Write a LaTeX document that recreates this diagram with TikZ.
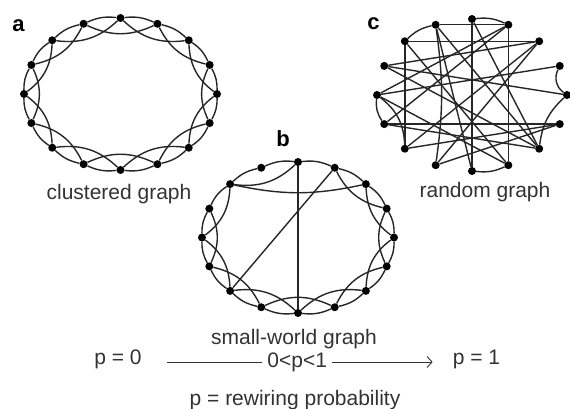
\documentclass[tikz,border=0pt]{standalone}
\usepackage{fontspec}
\setmainfont{Liberation Sans}
\usepackage{tikz}
\usetikzlibrary{arrows.meta}
\tikzset{
  vtx/.style   = {circle, fill=black, inner sep=0pt, minimum size=8pt},
  lnk/.style   = {line width=1.4pt, draw=black!85},
  ring/.style  = {bend left=15},
  hop/.style   = {bend right=25},
  gtxt/.style  = {font=\fontsize{21}{25}\selectfont, text=black!80, inner sep=0pt},
  letter/.style = {font=\fontsize{22}{26}\selectfont\bfseries, inner sep=0pt, anchor=base},
  flow/.style  = {-{Straight Barb[length=5pt,width=11pt]}, line width=0.9pt, draw=black!80},
}

\begin{document}
\begin{tikzpicture}[x=1pt, y=1pt]
  \useasboundingbox (0,0) rectangle (570,409);

  % a: clustered graph, left
  \foreach \i in {0,...,15}
    \node[vtx] (a\i) at ({120.5+96.5*cos(90-22.5*\i)}, {315+76*sin(90-22.5*\i)}) {};
  \foreach \i in {0,...,15} {
    \pgfmathtruncatemacro\j{mod(\i+1,16)}
    \pgfmathtruncatemacro\k{mod(\i+2,16)}
    \draw[lnk] (a\i) to[ring] (a\j);
    \draw[lnk] (a\i) to[hop] (a\k);
  }
  \node[letter] (la) at (18.5,377) {a};
  \node[gtxt, anchor=base] (clus) at (119,209) {clustered graph};

  % b: small-world graph, middle
  \foreach \i in {0,...,15}
    \node[vtx] (b\i) at ({298+96*cos(90-22.5*\i)}, {171.5+75.5*sin(90-22.5*\i)}) {};
  \foreach \i in {0,...,15} {
    \pgfmathtruncatemacro\j{mod(\i+1,16)}
    \draw[lnk] (b\i) to[ring] (b\j);
  }
  \foreach \i in {1,...,12,14} {
    \pgfmathtruncatemacro\k{mod(\i+2,16)}
    \draw[lnk] (b\i) to[hop] (b\k);
  }
  % rewired links
  \draw[lnk] (b0) -- (b8);
  \draw[lnk] (b1) -- (b10);
  \draw[lnk] (b14) to[bend right=12] (b2);
  \node[letter] (lb) at (283,262) {b};
  \node[gtxt, anchor=base] (smw) at (294,64) {small-world graph};

  % c: random graph, right
  \foreach \i in {0,...,15}
    \node[vtx] (c\i) at ({472+95*cos(90-22.5*\i)}, {314+76*sin(90-22.5*\i)}) {};
  \foreach \u/\v in {0/8, 0/6, 1/7, 14/10, 14/2, 14/7, 13/2, 13/4, 13/6, 12/3, 12/1,
                     11/5, 11/6, 11/1, 10/5, 10/2, 9/2, 9/5, 15/8, 15/6, 15/1, 12/7}
    \draw[lnk] (c\u) -- (c\v);
  \foreach \u/\v/\b in {0/1/15, 14/15/15, 3/4/-40, 7/8/15, 10/12/-25, 15/9/8, 4/6/-20, 11/12/20}
    \draw[lnk] (c\u) to[bend left=\b] (c\v);
  \node[letter] (lc) at (373.5,379) {c};
  \node[gtxt, anchor=base] (rand) at (485,211) {random graph};

  % rewiring axis
  \node[gtxt, anchor=mid] (pzero) at (118,47) {p = 0};
  \node[gtxt, anchor=mid] (pone) at (476.5,47) {p = 1};
  \draw[flow, shorten <=25pt, shorten >=20pt] (pzero.mid east) -- (pone.mid west)
    node[gtxt, midway, fill=white, inner xsep=5pt, inner ysep=2pt] (pmid) {0<p<1};
  \node[gtxt, anchor=base] (pdef) at (295,3) {p = rewiring probability};
\end{tikzpicture}
\end{document}
